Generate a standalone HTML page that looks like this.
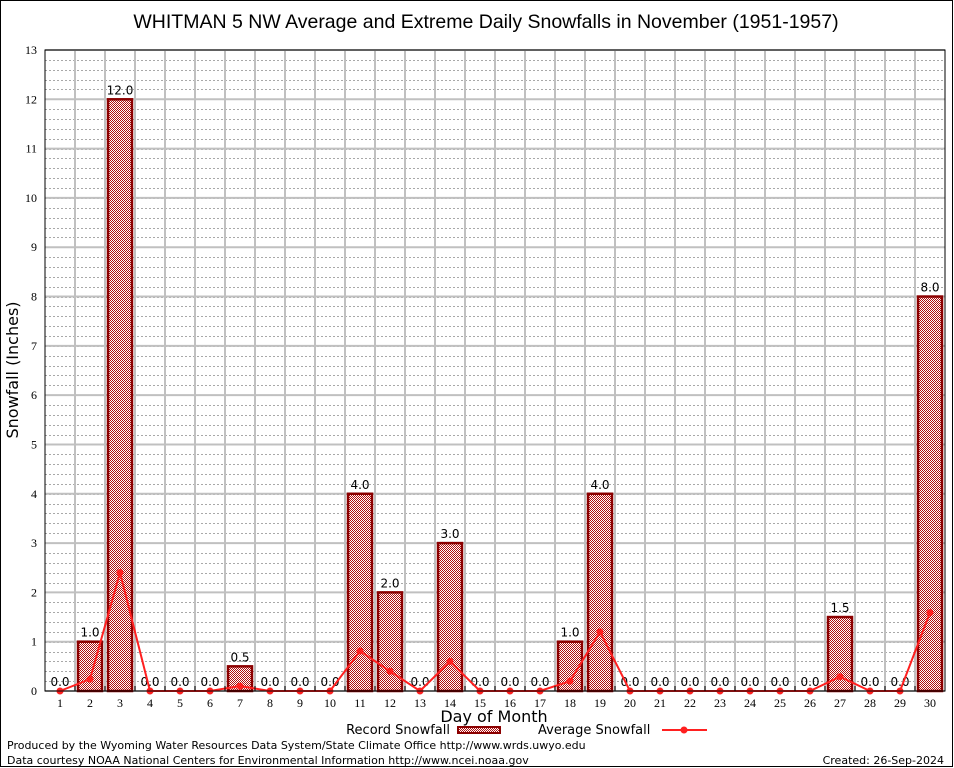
<!DOCTYPE html>
<html><head><meta charset="utf-8"><style>
body{margin:0;background:#fff;}
svg{display:block;font-family:"DejaVu Sans","Liberation Sans",sans-serif;}
</style></head><body>
<svg id="chart" width="954" height="768" viewBox="0 0 954 768">
<defs>
<pattern id="chk" width="2" height="2" patternUnits="userSpaceOnUse">
<rect width="2" height="2" fill="#fff"/><rect width="1" height="1" fill="#b01010"/><rect x="1" y="1" width="1" height="1" fill="#b01010"/>
</pattern>
</defs>
<rect x="0.5" y="0.5" width="952" height="766" fill="#fff" stroke="#000"/>
<text x="486" y="28" font-size="19.5" text-anchor="middle" font-family="Liberation Sans, sans-serif">WHITMAN 5 NW Average and Extreme Daily Snowfalls in November (1951-1957)</text>
<g id="grid"></g>
<g id="bars"></g>
<g id="avg"></g>
<g id="axes"></g>
<text x="18" y="370" font-size="16" text-anchor="middle" transform="rotate(-90 18 370)">Snowfall (Inches)</text>
<text x="494" y="722" font-size="16" text-anchor="middle">Day of Month</text>
<g>
<text x="450" y="734" font-size="13" text-anchor="end">Record Snowfall</text>
<rect x="458" y="727" width="42" height="6" fill="url(#chk)" stroke="#8b0000" stroke-width="2"/>
<text x="538" y="734" font-size="13">Average Snowfall</text>
<line x1="662" y1="730" x2="707" y2="730" stroke="#ff2020" stroke-width="2"/>
<circle cx="684" cy="730" r="3.5" fill="#ff2020"/>
</g>
<text x="7" y="749" font-size="11">Produced by the Wyoming Water Resources Data System/State Climate Office http://www.wrds.uwyo.edu</text>
<text x="7" y="764" font-size="11">Data courtesy NOAA National Centers for Environmental Information http://www.ncei.noaa.gov</text>
<text x="944" y="764" font-size="11" text-anchor="end">Created: 26-Sep-2024</text>
</svg>
<script>
const days = [1,2,3,4,5,6,7,8,9,10,11,12,13,14,15,16,17,18,19,20,21,22,23,24,25,26,27,28,29,30];
const recordValues = [0,1,12,0,0,0,0.5,0,0,0,4,2,0,3,0,0,0,1,4,0,0,0,0,0,0,0,1.5,0,0,8];
const averageValues = [0,0.24,2.4,0,0,0,0.1,0,0,0,0.81,0.4,0,0.6,0,0,0,0.2,1.2,0,0,0,0,0,0,0,0.29,0,0,1.59];
const yTicks = [0,1,2,3,4,5,6,7,8,9,10,11,12,13];
const NS="http://www.w3.org/2000/svg";
const L=45,R=945,T=50,B=691,yMax=13;
const x=d=>60+(d-1)*30;
const y=v=>B-(v/yMax)*(B-T);
function mk(tag,attrs,parent,txt){const e=document.createElementNS(NS,tag);for(const k in attrs)e.setAttribute(k,attrs[k]);if(txt!==undefined)e.textContent=txt;parent.appendChild(e);return e;}
const grid=document.getElementById('grid'),bars=document.getElementById('bars'),avg=document.getElementById('avg'),axes=document.getElementById('axes');
for(let v=0;v<=yMax;v+=0.2){const yy=Math.round(y(v))+0.5;const l=mk('line',{x1:L,x2:R,y1:yy,y2:yy,stroke:'#a8a8a8','stroke-dasharray':'2,2','stroke-width':1},grid);

}
yTicks.forEach(v=>{const yy=y(v);const l=mk('line',{x1:L,x2:R,y1:yy,y2:yy,stroke:'#c0c0c0','stroke-width':2},grid);


const t=mk('text',{x:L-8,y:yy+4,'font-size':12,'text-anchor':'end','font-family':'Liberation Serif, serif'},axes,String(v));

});
days.forEach(d=>{if(d<days.length){const xx=x(d)+15;const l=mk('line',{x1:xx,x2:xx,y1:T,y2:B,stroke:'#c0c0c0','stroke-width':2},grid);

}
const t=mk('text',{x:x(d),y:B+16,'font-size':12,'text-anchor':'middle','font-family':'Liberation Serif, serif'},axes,String(d));


const tk=mk('line',{x1:x(d)+15,x2:x(d)+15,y1:B,y2:B-5,stroke:'#000'},axes);

});
days.forEach((d,i)=>{const v=recordValues[i];
if(v>0){const r=mk('rect',{x:x(d)-12,y:y(v),width:24,height:B-y(v),fill:'url(#chk)',stroke:'#8b0000','stroke-width':2.5},bars);

}
const t=mk('text',{x:x(d),y:y(v)-5,'font-size':12,'text-anchor':'middle'},bars,v.toFixed(1));

});
const pts=days.map((d,i)=>x(d)+','+y(averageValues[i])).join(' ');
const pl=mk('polyline',{points:pts,fill:'none',stroke:'#ff2020','stroke-width':2},avg);


days.forEach((d,i)=>{const c=mk('circle',{cx:x(d),cy:y(averageValues[i]),r:3.5,fill:'#ff2020'},avg);

});
const fr=mk('rect',{x:L,y:T,width:R-L,height:B-T,fill:'none',stroke:'#000','stroke-width':1},axes);


</script>
</body></html>
